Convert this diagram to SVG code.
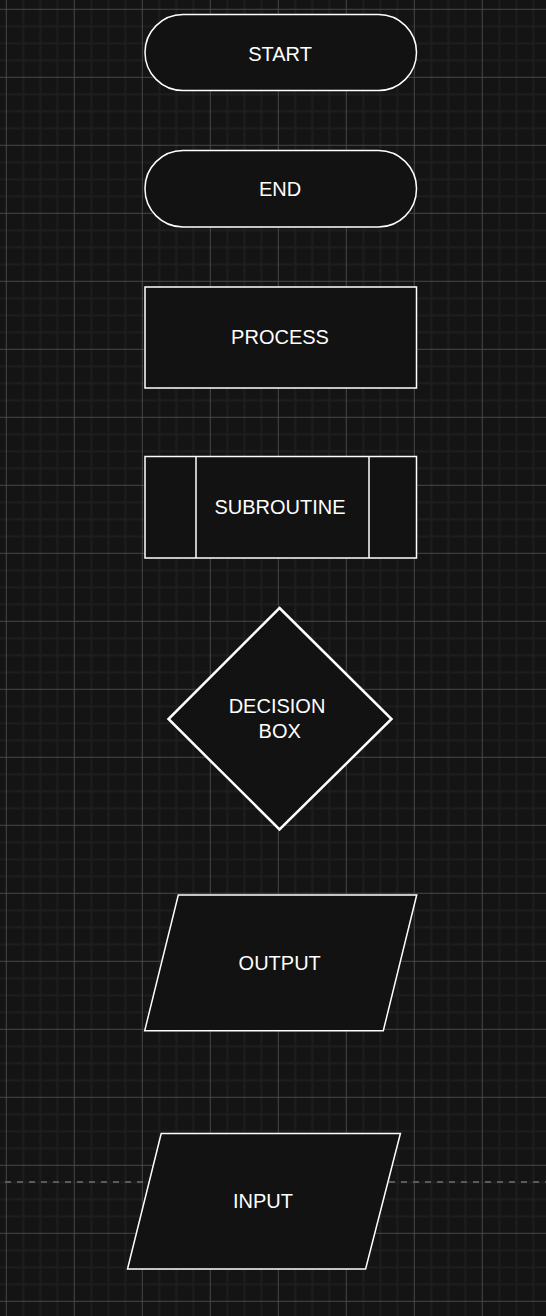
<svg xmlns="http://www.w3.org/2000/svg" width="546" height="1316" viewBox="0 0 546 1316">
  <style>
    .shape { fill: #121212; stroke: #ffffff; stroke-width: 1.5; }
    .thick { stroke-width: 2.5; }
    .label { fill: #ffffff; font-family: "Liberation Sans", Arial, Helvetica, sans-serif; font-size: 20px; text-anchor: middle; }
  </style>
  <defs>
    <pattern id="grid" patternUnits="userSpaceOnUse" x="5.8" y="8.8" width="68" height="68">
      <rect x="16.5" y="0" width="2" height="68" fill="#1e1e1e"/>
      <rect x="33.5" y="0" width="2" height="68" fill="#1e1e1e"/>
      <rect x="50.5" y="0" width="2" height="68" fill="#1e1e1e"/>
      <rect x="0" y="16.5" width="68" height="2" fill="#1e1e1e"/>
      <rect x="0" y="33.5" width="68" height="2" fill="#1e1e1e"/>
      <rect x="0" y="50.5" width="68" height="2" fill="#1e1e1e"/>
      <rect x="0" y="0" width="1" height="68" fill="#464646"/>
      <rect x="0" y="0" width="68" height="1" fill="#464646"/>
    </pattern>
  </defs>
  <rect x="0" y="0" width="546" height="1316" fill="#141414"/>
  <rect x="0" y="0" width="546" height="1316" fill="url(#grid)"/>

  <g id="connectors">
    <line x1="5" y1="1182" x2="546" y2="1182" stroke="#5a5a5a" stroke-width="2" stroke-dasharray="6 6"/>
  </g>

  <g id="start">
    <rect class="shape" x="145" y="14.5" width="271.5" height="76" rx="38" ry="38"/>
    <text class="label" x="280" y="60.5">START</text>
  </g>
  <g id="end">
    <rect class="shape" x="145" y="150.5" width="271.5" height="76.5" rx="38" ry="38"/>
    <text class="label" x="280" y="196">END</text>
  </g>
  <g id="process">
    <rect class="shape" x="145" y="287" width="271.5" height="101"/>
    <text class="label" x="280" y="344">PROCESS</text>
  </g>
  <g id="subroutine">
    <rect class="shape" x="145" y="456.5" width="271.5" height="101.5"/>
    <line class="shape" x1="196" y1="456.5" x2="196" y2="558"/>
    <line class="shape" x1="369" y1="456.5" x2="369" y2="558"/>
    <text class="label" x="280" y="514">SUBROUTINE</text>
  </g>
  <g id="decision">
    <polygon class="shape thick" points="279.5,608 391.5,719 279.5,829.5 168.5,719"/>
    <text class="label" x="277" y="713.3">DECISION</text>
    <text class="label" x="279.7" y="738.3">BOX</text>
  </g>
  <g id="output">
    <polygon class="shape" points="178.3,895 416.7,895 383.3,1030.7 144.7,1030.7"/>
    <text class="label" x="279.7" y="970">OUTPUT</text>
  </g>
  <g id="input">
    <polygon class="shape" points="161.2,1133.5 400.4,1133.5 365.6,1269 127.5,1269"/>
    <text class="label" x="263" y="1208.3">INPUT</text>
  </g>
</svg>
